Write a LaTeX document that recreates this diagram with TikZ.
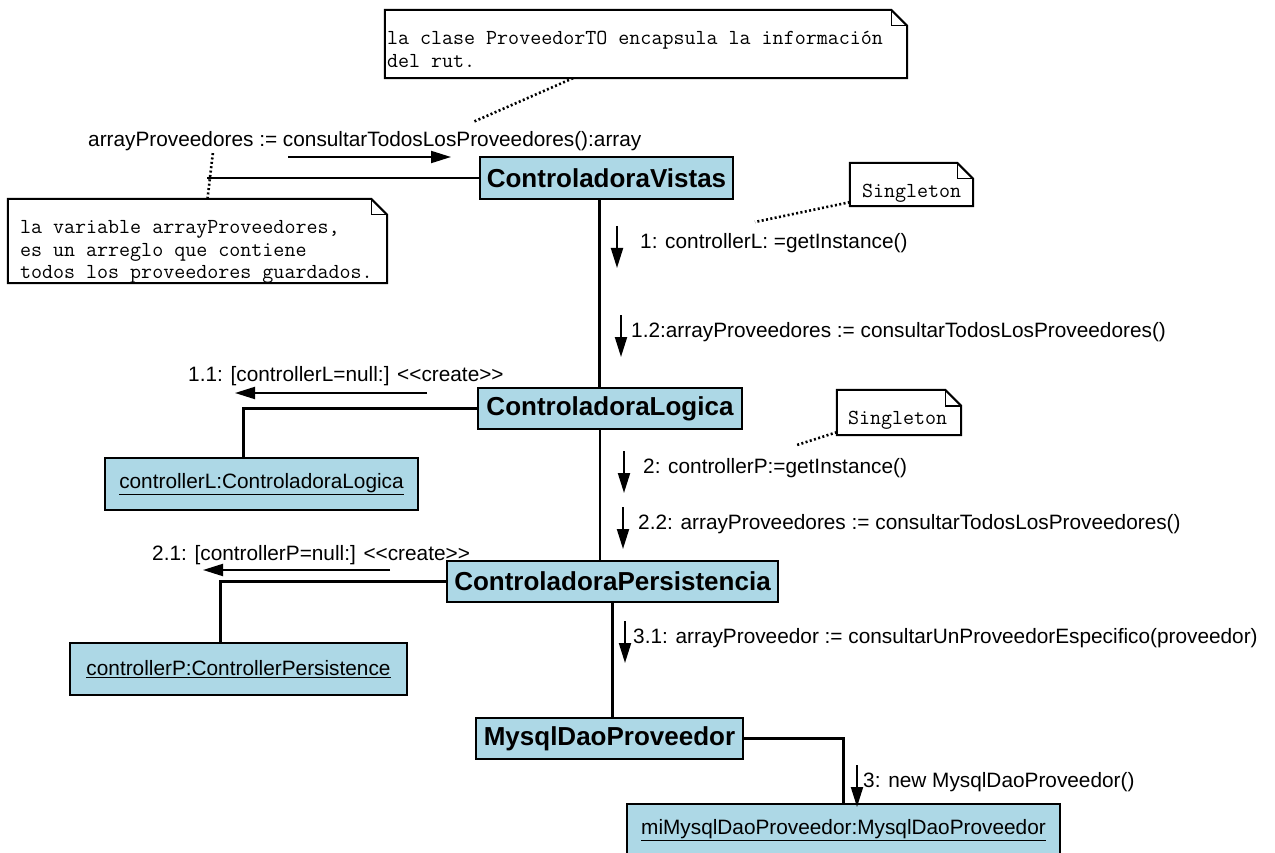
\documentclass[tikz,border=0pt]{standalone}
\usepackage{fontspec}
\setmainfont{Liberation Sans}[Ligatures=TeXOff]
\usepackage{tikz}
\usetikzlibrary{arrows.meta, positioning, calc}
\definecolor{clasefill}{RGB}{173,216,230}
\newcommand{\msgfont}{\fontsize{20.8}{25}\selectfont}
\newcommand{\clasefont}{\bfseries\fontsize{26}{30}\selectfont}
\newcommand{\notafont}{\ttfamily\fontsize{21.4}{22.5}\selectfont}
\tikzset{
clase/.style={
draw=black,
fill=clasefill,
line width=2.6pt,
font=\clasefont,
inner sep=0pt,
minimum height=41pt
},
objeto/.style={
draw=black,
fill=clasefill,
line width=2.6pt,
font=\msgfont,
inner sep=0pt,
minimum height=52pt
},
nota/.style={
draw=none,
fill=white,
inner sep=0pt
},
notatexto/.style={
font=\notafont,
align=left,
inner sep=0pt,
anchor=north west
},
msg/.style={
font=\msgfont,
inner sep=0pt,
anchor=west
},
enlace/.style={
line width=2.4pt
},
mensaje/.style={
-{Triangle[length=20pt,width=12pt]},
line width=2pt
},
punteado/.style={
line width=2.6pt,
dash pattern=on 2pt off 2.4pt
},
borde/.style={
line width=2pt
}
}
\newcommand{\doblez}[1]{%
  \draw[borde] (#1.north west) -- ([xshift=-16pt]#1.north east) -- ([yshift=-16pt]#1.north east)
    -- (#1.south east) -- (#1.south west) -- cycle;
  \draw[borde, line width=1.4pt] ([xshift=-16pt]#1.north east) |- ([yshift=-16pt]#1.north east);
}
\newcommand{\flechabajo}[2]{\draw[mensaje] ([shift={(#2,17pt)}]#1.west) -- ++(0,42);}

\begin{document}
\begin{tikzpicture}[x=1pt,y=-1pt]
\clip (0,0) rectangle (1275,853);
\fill[white] (0,0) rectangle (1275,853);

\node[clase, minimum width=253pt, minimum height=42pt] (vistas) at (606.5,178) {ControladoraVistas};
\node[clase, minimum width=264pt] (logica) at (610,408.5) {ControladoraLogica};
\node[clase, minimum width=331pt] (persistencia) at (612.5,581.5) {ControladoraPersistencia};
\node[clase, minimum width=267pt] (mysqlDao) at (609.5,738.5) {MysqlDaoProveedor};

\node[objeto, minimum width=313pt] (ctrlL) at (261.5,484) {\underline{controllerL:ControladoraLogica}};
\node[objeto, minimum width=337pt] (ctrlP) at (238.5,669) {\underline{controllerP:ControllerPersistence}};
\node[objeto, minimum width=433pt] (miMysql) at (843.5,830) {\underline{miMysqlDaoProveedor:MysqlDaoProveedor}};

\coordinate (actor) at (207,178);
\coordinate (ejeA) at ([xshift=-7pt]vistas.south);
\coordinate (ejeB) at ([xshift=-10pt]logica.south);
\draw[enlace] (actor) -- (vistas.west);
\draw[enlace] (ejeA) -- (ejeA |- logica.north);
\draw[enlace] (ejeB) -- (ejeB |- persistencia.north);
\draw[enlace] (persistencia.south) -- (persistencia.south |- mysqlDao.north);
\draw[enlace] (logica.west) -| ([xshift=-18pt]ctrlL.north);
\draw[enlace] (persistencia.west) -| ([xshift=-18pt]ctrlP.north);
\draw[enlace] (mysqlDao.east) -| (miMysql.north);

\node[msg] (msgTop) at (88,141) {arrayProveedores := consultarTodosLosProveedores():array};
\node[msg] (m1) at (640,243) {1: controllerL: =getInstance()};
\node[msg] (m12) at (631,332) {1.2:arrayProveedores := consultarTodosLosProveedores()};
\node[msg] (m11) at (188,376) {1.1: [controllerL=null:] <<create>>};
\node[msg] (m2) at (643,468) {2: controllerP:=getInstance()};
\node[msg] (m22) at (638,524) {2.2: arrayProveedores := consultarTodosLosProveedores()};
\node[msg] (m21) at (152,555) {2.1: [controllerP=null:] <<create>>};
\node[msg] (m31) at (633,638) {3.1: arrayProveedor := consultarUnProveedorEspecifico(proveedor)};
\node[msg] (m3) at (863,782) {3: new MysqlDaoProveedor()};

\draw[mensaje] ([shift={(200pt,-16pt)}]msgTop.west) -- ++(163,0);
\draw[mensaje] ([shift={(239pt,-17pt)}]m11.west) -- ++(-192,0);
\draw[mensaje] ([shift={(238pt,-15pt)}]m21.west) -- ++(-187,0);
\flechabajo{m1}{-23pt}
\flechabajo{m12}{-10pt}
\flechabajo{m2}{-19pt}
\flechabajo{m22}{-15pt}
\flechabajo{m31}{-8pt}
\flechabajo{m3}{-6pt}

\node[nota, minimum width=522pt, minimum height=68pt] (notaRut) at (646,44) {};
\doblez{notaRut}
\node[notatexto] (notaRutTxt) at ([shift={(2pt,-19pt)}]notaRut.north west)
  {\strut la clase ProveedorTO encapsula la información\\del rut.};

\node[nota, minimum width=379pt, minimum height=84pt] (notaArreglo) at (197.5,241) {};
\doblez{notaArreglo}
\node[notatexto] (notaArregloTxt) at ([shift={(12pt,-19pt)}]notaArreglo.north west)
  {\strut la variable arrayProveedores,\\es un arreglo que contiene\\todos los proveedores guardados.};

\node[nota, minimum width=123pt, minimum height=43pt] (singA) at (911.5,184.5) {};
\doblez{singA}
\node[notatexto] (singATxt) at ([shift={(12pt,-19pt)}]singA.north west) {\strut Singleton};

\node[nota, minimum width=124pt, minimum height=45pt] (singB) at (899,412.5) {};
\doblez{singB}
\node[notatexto] (singBTxt) at ([shift={(11pt,-19pt)}]singB.north west) {\strut Singleton};

\coordinate (pRut) at (473,122);
\coordinate (pArreglo) at (213,152);
\coordinate (pSingA) at (755,222);
\coordinate (pSingB) at (797,445);
\draw[punteado] ([xshift=-73pt]notaRut.south) -- (pRut);
\draw[punteado] ([xshift=10pt]notaArreglo.north) -- (pArreglo);
\draw[punteado] ([yshift=4pt]singA.south west) -- (pSingA);
\draw[punteado] ([yshift=3pt]singB.south west) -- (pSingB);

\end{tikzpicture}
\end{document}
